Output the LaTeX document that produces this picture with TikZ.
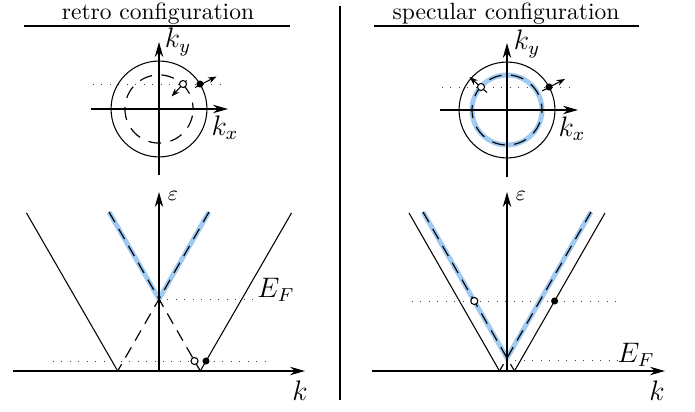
\documentclass[tikz,border=0pt]{standalone}
\usetikzlibrary{arrows.meta}
\definecolor{bandblue}{RGB}{160,202,242}
\begin{document}
\begin{tikzpicture}[x=0.4255pt,y=-0.4255pt,
  axis/.style={line width=0.5pt,-{Stealth[length=6.4pt,width=3.6pt]}},
  thinline/.style={line width=0.45pt},
  dashline/.style={line width=0.5pt,dash pattern=on 5pt off 3.3pt},
  circdash/.style={line width=0.5pt,dash pattern=on 5.5pt off 4pt,dash phase=2.75pt},
  band/.style={line width=2.1pt,bandblue},
  dotline/.style={line width=0.4pt,black!75,dash pattern=on 0.4pt off 3.2pt},
  vel/.style={line width=0.45pt,-{Stealth[length=3.6pt,width=2.6pt]}},
  fdot/.style={circle,fill=black,inner sep=0pt,minimum size=3pt},
  hdot/.style={circle,draw=black,fill=white,line width=0.45pt,inner sep=0pt,minimum size=3pt},
  lab/.style={font=\large,inner sep=0pt},
  elab/.style={font=\small,inner sep=0pt},
]
\useasboundingbox (0,0) rectangle (695,412);

% ---------- titles and divider ----------
\node[inner sep=0pt] (t1) at (158,14) {retro configuration};
\node[inner sep=0pt] (t2) at (506,14) {specular configuration};
\coordinate (u1a) at (24,26); \coordinate (u1b) at (290,26);
\coordinate (u2a) at (374,26); \coordinate (u2b) at (639,26);
\draw[thinline] (u1a) -- (u1b);
\draw[thinline] (u2a) -- (u2b);
\coordinate (dva) at (340,6); \coordinate (dvb) at (340,400);
\draw[line width=0.8pt] (dva) -- (dvb);

% ---------- top left: Fermi circles ----------
\coordinate (c1) at (159,109);
\coordinate (d1a) at (93,84); \coordinate (d1b) at (227,84);
\draw[dotline] (d1a) -- (d1b);
\draw[thinline] (c1) circle[radius=20.4pt];
\draw[circdash] (c1) circle[radius=14.5pt];
\coordinate (kx1s) at (91,109); \coordinate (kx1e) at (228,109);
\coordinate (ky1s) at (159,175); \coordinate (ky1e) at (159,42);
\draw[axis] (kx1s) -- (kx1e);
\draw[axis] (ky1s) -- (ky1e);
\node[lab] (kx1) at (225,128) {$k_x$};
\node[lab] (ky1) at (178,42) {$k_y$};
\coordinate (v1a) at (186.5,80.5); \coordinate (v1b) at (171.5,96.5);
\coordinate (v2a) at (195,87.5); \coordinate (v2b) at (216.5,76.5);
\draw[vel] (v1a) -- (v1b);
\draw[vel] (v2a) -- (v2b);
\node[hdot] (h1) at (183,84) {};
\node[fdot] (p1) at (200,84) {};

% ---------- top right: Fermi circles ----------
\coordinate (c2) at (507,110);
\coordinate (d2a) at (442,87); \coordinate (d2b) at (577,87);
\draw[dotline] (d2a) -- (d2b);
\draw[thinline] (c2) circle[radius=20.4pt];
\draw[band] (c2) circle[radius=14.9pt];
\draw[circdash] (c2) circle[radius=14.9pt];
\coordinate (kx2s) at (440,110); \coordinate (kx2e) at (578,110);
\coordinate (ky2s) at (507,177); \coordinate (ky2e) at (507,43);
\draw[axis] (kx2s) -- (kx2e);
\draw[axis] (ky2s) -- (ky2e);
\node[lab] (kx2) at (572,129) {$k_x$};
\node[lab] (ky2) at (527,44) {$k_y$};
\coordinate (v3a) at (487,92.5); \coordinate (v3b) at (469.5,77);
\coordinate (v4a) at (542,91); \coordinate (v4b) at (565,79);
\draw[vel] (v3a) -- (v3b);
\draw[vel] (v4a) -- (v4b);
\node[hdot] (h2) at (481,87) {};
\node[fdot] (p2) at (549,87) {};

% ---------- bottom left: retro dispersion ----------
\coordinate (l1a) at (53,361); \coordinate (l1b) at (265,361);
\coordinate (l2a) at (159,299); \coordinate (l2b) at (260,299);
\draw[dotline] (l1a) -- (l1b);
\draw[dotline] (l2a) -- (l2b);
\coordinate (sl1) at (26.5,213); \coordinate (sl2) at (117.7,371);
\coordinate (sl3) at (200.3,371); \coordinate (sl4) at (291.5,213);
\draw[thinline] (sl1) -- (sl2);
\draw[thinline] (sl3) -- (sl4);
\coordinate (bl1) at (109,212); \coordinate (blv) at (159,299); \coordinate (bl2) at (209,212);
\draw[band] (bl1) -- (blv) -- (bl2);
\draw[dashline] (bl1) -- (sl3);
\draw[dashline] (bl2) -- (sl2);
\coordinate (ka1) at (13,371); \coordinate (kb1) at (305,371);
\coordinate (ea1) at (159,371); \coordinate (eb1) at (159,192);
\draw[axis] (ka1) -- (kb1);
\draw[axis] (ea1) -- (eb1);
\node[elab] (eps1) at (173,196) {$\varepsilon$};
\node[lab] (k1) at (300,391) {$k$};
\node[lab] (ef1) at (276,290) {$E_F$};
\node[hdot] (h3) at (194.5,361) {};
\node[fdot] (p3) at (206,361) {};

% ---------- bottom right: specular dispersion ----------
\coordinate (r1a) at (412,301); \coordinate (r1b) at (623,301);
\coordinate (r2a) at (507,360); \coordinate (r2b) at (620,360);
\draw[dotline] (r1a) -- (r1b);
\draw[dotline] (r2a) -- (r2b);
\coordinate (sr1) at (409,213); \coordinate (sr2) at (499.5,371);
\coordinate (sr3) at (514.5,371); \coordinate (sr4) at (605,213);
\draw[thinline] (sr1) -- (sr2);
\draw[thinline] (sr3) -- (sr4);
\coordinate (br1) at (423,212); \coordinate (brv) at (507,358); \coordinate (br2) at (591,212);
\draw[band] (br1) -- (brv) -- (br2);
\draw[dashline] (br1) -- (sr3);
\draw[dashline] (br2) -- (sr2);
\coordinate (ka2) at (372,371); \coordinate (kb2) at (665,371);
\coordinate (ea2) at (507,371); \coordinate (eb2) at (507,192);
\draw[axis] (ka2) -- (kb2);
\draw[axis] (ea2) -- (eb2);
\node[elab] (eps2) at (521,196) {$\varepsilon$};
\node[lab] (k2) at (657,391) {$k$};
\node[lab] (ef2) at (636,355) {$E_F$};
\node[hdot] (h4) at (474.3,301) {};
\node[fdot] (p4) at (554.6,301) {};
\end{tikzpicture}
\end{document}
